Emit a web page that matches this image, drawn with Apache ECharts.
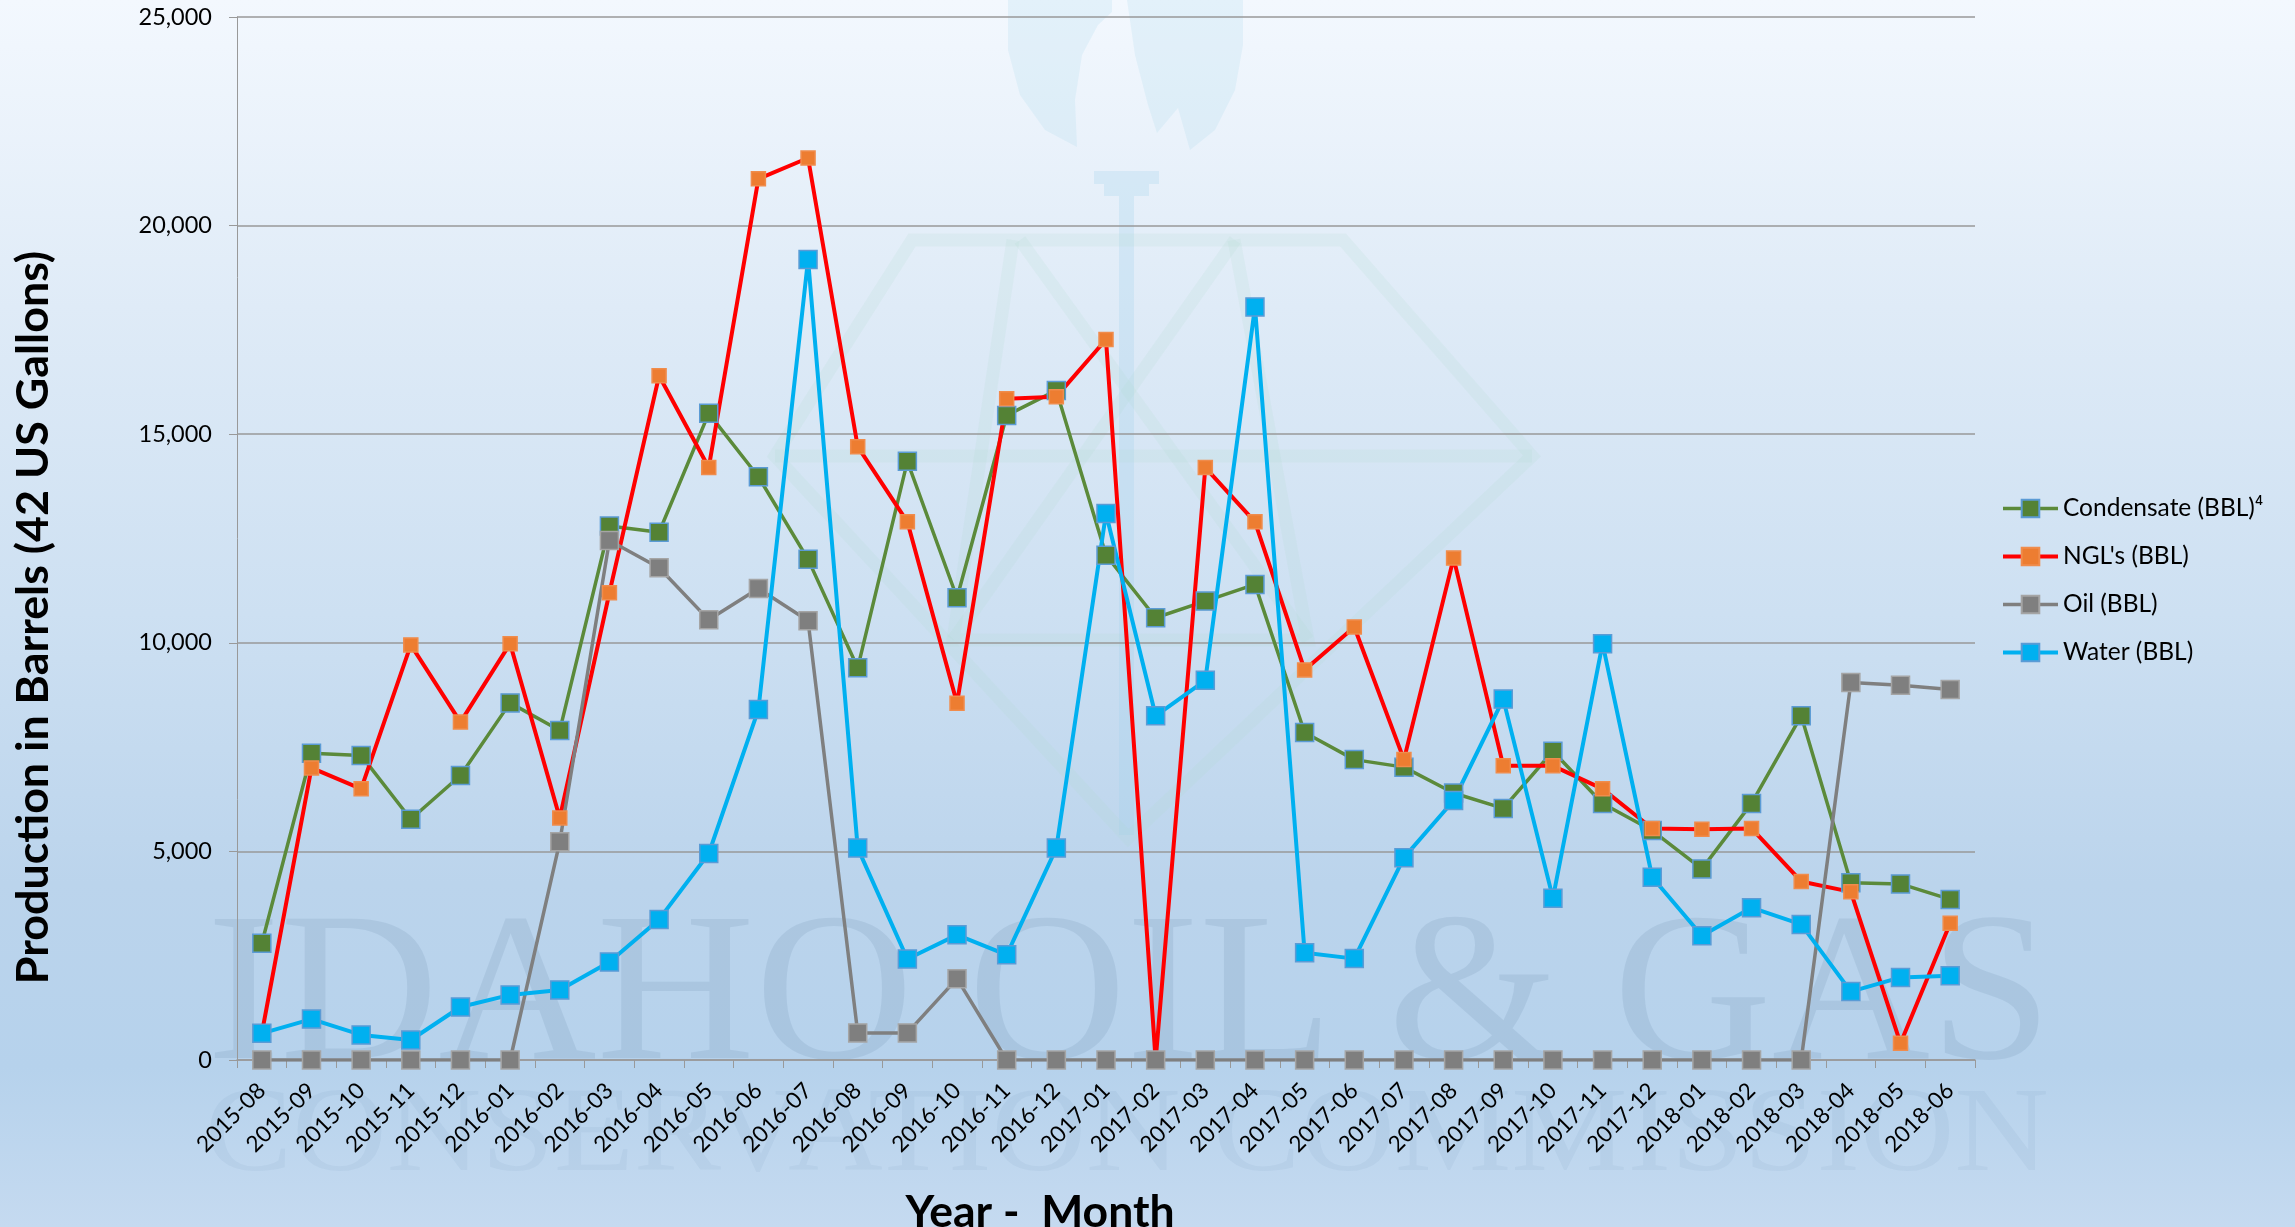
<!DOCTYPE html>
<html><head><meta charset="utf-8">
<style>html,body{margin:0;padding:0;background:#cfe0f2}#c{width:2295px;height:1227px}</style>
<script src="https://cdn.jsdelivr.net/npm/echarts@6/dist/echarts.min.js"></script>
</head><body><div id="c"></div>
<script>
const months = ['2015-08','2015-09','2015-10','2015-11','2015-12','2016-01','2016-02','2016-03','2016-04','2016-05','2016-06','2016-07','2016-08','2016-09','2016-10','2016-11','2016-12','2017-01','2017-02','2017-03','2017-04','2017-05','2017-06','2017-07','2017-08','2017-09','2017-10','2017-11','2017-12','2018-01','2018-02','2018-03','2018-04','2018-05','2018-06'];
const condensate = [2800,7350,7300,5770,6820,8560,7900,12800,12650,15500,13980,12000,9400,14350,11080,15450,16050,12100,10600,11000,11400,7850,7200,7020,6400,6030,7400,6150,5500,4580,6150,8250,4250,4220,3850];
const ngl = [640,7000,6500,9950,8100,9980,5800,11200,16400,14200,21120,21620,14700,12900,8550,15850,15900,17270,0,14200,12900,9350,10380,7200,12030,7050,7050,6500,5550,5530,5550,4280,4030,400,3280];
const oil = [0,0,0,0,0,0,5230,12450,11800,10550,11300,10530,650,650,1950,0,0,0,0,0,0,0,0,0,0,0,0,0,0,0,0,0,9050,8980,8880];
const water = [640,980,600,480,1270,1560,1680,2350,3370,4950,8400,19190,5080,2420,3000,2520,5080,13100,8250,9100,18050,2570,2430,4850,6220,8650,3880,9980,4380,2980,3650,3250,1640,1980,2020];

const textFont = 'Lato';
const titleFont = 'Lato';
const wmSerif = '"Liberation Serif"';

function lineSeries(name, data, lineColor, lineWidth, fill, border, size) {
  return {
    name, type: 'line', data, symbol: 'rect', symbolSize: size,
    lineStyle: { color: lineColor, width: lineWidth },
    itemStyle: { color: fill, borderColor: border, borderWidth: 1.5 }
  };
}
function deco(type, shape, style, z) { return { type, z: z || -10, silent: true, shape, style }; }

const chart = echarts.init(document.getElementById('c'), null, { renderer: 'canvas' });
const logoLine = { fill: 'none', stroke: 'rgba(175,215,205,0.16)', lineWidth: 13 };
const logoFill = { fill: 'rgba(165,215,235,0.2)' };
chart.setOption({
  animation: false,
  backgroundColor: {
    type: 'linear', x: 0, y: 0, x2: 0, y2: 1,
    colorStops: [
      { offset: 0, color: '#f3f8fe' },
      { offset: 0.25, color: '#dfebf7' },
      { offset: 0.5, color: '#cde0f2' },
      { offset: 0.72, color: '#bbd4ec' },
      { offset: 0.87, color: '#b6d2ec' },
      { offset: 1, color: '#c5daf0' }
    ]
  },
  graphic: { elements: [
    deco('polygon', { points: [[1008,0],[1008,50],[1020,95],[1045,130],[1077,147],[1075,100],[1082,55],[1098,25],[1112,12],[1112,0]] }, logoFill),
    deco('polygon', { points: [[1127,0],[1135,55],[1148,105],[1157,133],[1178,108],[1190,150],[1215,130],[1235,90],[1243,45],[1243,0]] }, logoFill),
    deco('polygon', { points: [[1094,171],[1159,171],[1159,184],[1149,184],[1149,196],[1134,196],[1134,835],[1119,835],[1119,196],[1104,196],[1104,184],[1094,184]] }, { fill: 'rgba(160,210,235,0.26)' }),
    deco('polygon', { points: [[912,240],[1343,240],[1532,456],[1128,838],[775,456]] }, logoLine),
    deco('polyline', { points: [[775,456],[1532,456]] }, logoLine),
    deco('polyline', { points: [[1013,240],[953,640],[1308,640],[1234,240]] }, logoLine),
    deco('polyline', { points: [[1020,240],[1308,640]] }, logoLine),
    deco('polyline', { points: [[1235,240],[953,640]] }, logoLine),
    { type: 'text', z: -9, silent: true, x: 207, y: 1108, scaleX: 1.034, style: { text: 'IDAHO OIL & GAS', font: '212px ' + wmSerif, fill: 'rgba(95,125,160,0.15)', textVerticalAlign: 'bottom' } },
    { type: 'text', z: -9, silent: true, x: 205, y: 1198, scaleX: 1.09, style: { text: 'CONSERVATION COMMISSION', font: '120px ' + wmSerif, fill: 'rgba(95,125,160,0.08)', textVerticalAlign: 'bottom' } }
  ] },
  grid: { left: 237, right: 320, top: 17, bottom: 167, containLabel: false, outerBoundsMode: 'none' },
  legend: {
    orient: 'vertical', left: 1996, top: 491, itemWidth: 55, itemHeight: 22, itemGap: 23,
    textStyle: { fontFamily: textFont, fontSize: 24.5, color: '#000' },
    lineStyle: { width: 'inherit' },
    data: ['Condensate (BBL)⁴', "NGL's (BBL)", 'Oil (BBL)', 'Water (BBL)']
  },
  xAxis: {
    type: 'category', data: months, boundaryGap: true,
    name: 'Year -  Month', nameLocation: 'middle', nameGap: 130,
    nameTextStyle: { fontFamily: titleFont, fontWeight: 'bold', fontSize: 44.5, color: '#000', padding: [0, 132, 0, 0] },
    axisLine: { lineStyle: { color: '#999', width: 1.5 } },
    axisTick: { show: true, length: 8, alignWithLabel: false, lineStyle: { color: '#999' } },
    axisLabel: { interval: 0, rotate: 45, margin: 27, fontFamily: textFont, fontSize: 22.5, color: '#000' }
  },
  yAxis: {
    type: 'value', min: 0, max: 25000, interval: 5000,
    name: 'Production in Barrels (42 US Gallons)', nameLocation: 'middle', nameGap: 181,
    nameTextStyle: { fontFamily: titleFont, fontWeight: 'bold', fontSize: 44.8, color: '#000', padding: [0, 158, 0, 0] },
    axisLine: { show: true, lineStyle: { color: '#999', width: 1 } },
    axisTick: { show: true, length: 8, lineStyle: { color: '#999' } },
    axisLabel: { margin: 25, fontFamily: textFont, fontSize: 23.5, color: '#000' },
    splitLine: { show: true, lineStyle: { color: '#999', width: 1.5 } }
  },
  series: [
    lineSeries('Condensate (BBL)⁴', condensate, '#5b8a3a', 3.5, '#548235', '#5b9bd5', 18),
    lineSeries("NGL's (BBL)", ngl, '#ff0000', 4, '#ed7d31', '#f08c4c', 14),
    lineSeries('Oil (BBL)', oil, '#7f7f7f', 3.5, '#7f7f7f', '#a5a5a5', 18),
    lineSeries('Water (BBL)', water, '#00b0f0', 4, '#00b0f0', '#5b9bd5', 18)
  ]
});
</script></body></html>
